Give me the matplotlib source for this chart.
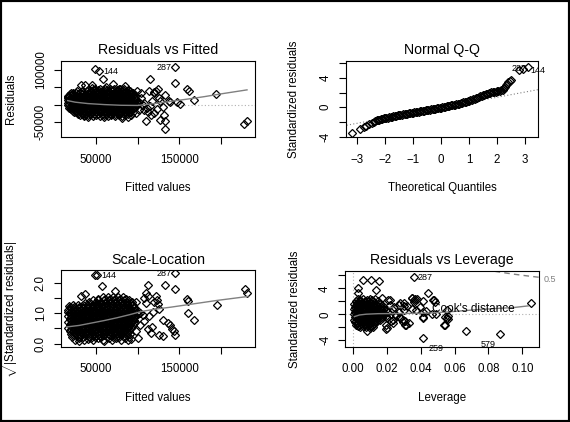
import matplotlib
matplotlib.use("Agg")
import matplotlib.pyplot as plt
import numpy as np

plt.rcParams['font.family'] = ['Liberation Sans', 'DejaVu Sans']
plt.rcParams['mathtext.fontset'] = 'custom'
plt.rcParams['mathtext.rm'] = 'Liberation Sans'
plt.rcParams['mathtext.it'] = 'Liberation Sans:italic'

# ---------- Residuals vs Fitted (thousands) ----------
# dense cloud: one list of fitted values per residual level
rf_cloud_res = [46, 42, 38, 34, 30, 26, 22, 18, 14, 10, 6, 2, -2, -6, -10, -14, -18, -22, -26, -30, -33]
rf_cloud_fit = [
    [49, 55, 61, 67, 72, 79, 84],
    [40, 46, 52, 58, 63, 70, 76, 82, 88],
    [27, 33, 39, 44, 50, 54, 60, 65, 69, 75, 80, 86, 91],
    [22, 26, 31, 35, 40, 44, 49, 53, 58, 62, 67, 71, 76, 80, 85, 89, 94],
    [19, 23, 28, 33, 37, 42, 46, 51, 55, 60, 64, 69, 73, 78, 83, 87, 92, 96],
    [18, 22, 27, 31, 36, 40, 45, 49, 53, 58, 62, 66, 71, 75, 80, 84, 88, 93, 97],
    [17, 21, 25, 30, 34, 38, 43, 47, 51, 56, 60, 64, 69, 73, 77, 82, 86, 90, 95],
    [17, 22, 26, 31, 35, 40, 44, 48, 53, 57, 61, 66, 70, 74, 79, 83, 87, 92, 96],
    [16, 20, 24, 29, 33, 37, 42, 46, 50, 55, 59, 63, 68, 72, 76, 81, 85, 89, 94, 98],
    [18, 22, 27, 31, 35, 40, 44, 48, 53, 57, 61, 66, 70, 74, 79, 83, 87, 92, 96],
    [16, 20, 25, 29, 33, 38, 42, 46, 51, 55, 59, 64, 68, 72, 77, 81, 85, 90, 94, 99],
    [18, 23, 27, 31, 36, 40, 44, 49, 53, 57, 62, 66, 70, 75, 79, 83, 88, 92, 97],
    [17, 21, 25, 30, 34, 38, 43, 47, 51, 56, 60, 64, 69, 73, 77, 82, 86, 90, 95, 99],
    [19, 23, 28, 32, 36, 41, 45, 49, 54, 58, 62, 67, 71, 75, 80, 84, 88, 93, 97],
    [18, 23, 27, 31, 36, 40, 44, 49, 53, 57, 62, 66, 70, 75, 79, 83, 88, 92, 96],
    [20, 25, 29, 33, 38, 42, 46, 51, 55, 59, 64, 68, 72, 77, 81, 85, 90, 94],
    [22, 26, 30, 35, 39, 43, 48, 52, 56, 61, 65, 69, 74, 78, 82, 87, 91],
    [24, 29, 33, 37, 42, 46, 50, 55, 59, 63, 68, 72, 76, 80, 85, 89],
    [28, 33, 38, 43, 48, 53, 58, 63, 68, 73, 78, 83, 88],
    [31, 36, 41, 50, 60, 68, 77, 85],
    [36, 46, 55, 64, 73, 81],
]
rf_out_fit = [49.2, 54, 145.2, 57.9, 114.3, 145, 159.5, 161, 167.5, 194.4, 227.8, 230.5,
              132.5, 110.3, 126.2, 131.4, 133, 130.2, 139, 150.9, 146.5, 132.5, 121.5, 124,
              119.8, 104, 99, 96.6, 102, 110.7, 107.5, 112.7, 101.6, 106.3, 117.5, 119, 127,
              137, 113, 31.7, 36.5, 19.8, 16.7, 21.4, 34.9, 80.9, 69.8, 77.8, 87.3, 89.7, 92,
              26, 60, 88, 94, 104, 108, 115, 116, 120, 123, 125, 98, 62, 45, 85, 40, 45.2, 75.4]
rf_out_res = [102, 96, 107.8, 72.8, 72.8, 63, 43.7, 39.8, 14.6, 31, -56.3, -47.6,
              -47.6, -47.6, -45.6, -30.1, -69.9, -5.8, 8.7, 2.9, 8.7, 28.2, 40, 44,
              36, 34, 39.8, 20.4, 8.7, -10.7, -15.5, -20.4, -16.5, -1, 10.7, 34, 10.7,
              10.7, 37.9, 55.3, 57.3, 34, 26.2, -10.7, -28.2, -39.8, 59.2, 43.7, 34, -10.7, -30.1,
              -22, -36, -36, -22, 20, 4, -5, -30, -25, -14, 18, -25, 50, 48, 55, -35, 57.3, 41.7]
rf_smooth_fit = [16, 25, 40, 60, 80, 100, 120, 140, 160, 180, 200, 231]
rf_smooth_res = [11.5, 7, 3, 0, -2, -2.5, 3, 9.5, 16, 23, 31, 42.5]

# ---------- Normal Q-Q ----------
qq_theo = [-3.19, -2.88, -2.76, -2.66, -2.56, -2.47, -2.40,
           -2.35, -2.30, -2.25, -2.20, -2.15, -2.10, -2.05, -2.00, -1.95, -1.90, -1.85, -1.80,
           -1.75, -1.70, -1.65, -1.60, -1.55, -1.50, -1.45, -1.40, -1.35, -1.30, -1.25, -1.20,
           -1.15, -1.10, -1.05, -1.00, -0.95, -0.90, -0.85, -0.80, -0.75, -0.70, -0.65, -0.60,
           -0.55, -0.50, -0.45, -0.40, -0.35, -0.30, -0.25, -0.20, -0.15, -0.10, -0.05, 0.00,
           0.05, 0.10, 0.15, 0.20, 0.25, 0.30, 0.35, 0.40, 0.45, 0.50, 0.55, 0.60, 0.65, 0.70,
           0.75, 0.80, 0.85, 0.90, 0.95, 1.00, 1.05, 1.10, 1.15, 1.20, 1.25, 1.30, 1.35, 1.40,
           1.45, 1.50, 1.55, 1.60, 1.65, 1.70, 1.75, 1.80, 1.85, 1.90, 1.95, 2.00, 2.05, 2.10,
           2.15, 2.20,
           2.25, 2.28, 2.32, 2.36, 2.40, 2.45, 2.50, 2.79, 2.93, 3.10]
qq_std = [-3.55, -2.92, -2.74, -2.56, -2.35, -2.15, -1.98,
          -1.88, -1.80, -1.74, -1.68, -1.63, -1.58, -1.53, -1.48, -1.44, -1.40, -1.36, -1.32,
          -1.28, -1.24, -1.20, -1.16, -1.12, -1.09, -1.05, -1.02, -0.98, -0.95, -0.91, -0.88,
          -0.84, -0.81, -0.77, -0.74, -0.70, -0.67, -0.63, -0.60, -0.56, -0.53, -0.49, -0.46,
          -0.42, -0.39, -0.35, -0.32, -0.28, -0.25, -0.21, -0.18, -0.14, -0.11, -0.07, -0.04,
          0.00, 0.04, 0.08, 0.12, 0.16, 0.20, 0.24, 0.28, 0.32, 0.37, 0.41, 0.46, 0.50, 0.55,
          0.60, 0.65, 0.70, 0.76, 0.82, 0.88, 0.94, 1.01, 1.08, 1.16, 1.24, 1.32, 1.41, 1.50,
          1.58, 1.66, 1.73, 1.80, 1.86, 1.92, 1.97, 2.02, 2.06, 2.10, 2.14, 2.18, 2.22, 2.26,
          2.32, 2.40,
          2.6, 2.8, 3.0, 3.2, 3.4, 3.6, 3.75, 5.05, 5.15, 5.5]
qq_line = (-0.06, 0.71)  # intercept, slope of the dotted line

# ---------- Scale-Location (fitted in thousands) ----------
sl_cloud_val = [1.52, 1.47, 1.42, 1.37, 1.32, 1.27, 1.22, 1.17, 1.12, 1.07, 1.02, 0.97, 0.92,
                0.87, 0.82, 0.77, 0.72, 0.67, 0.62, 0.57, 0.52, 0.47, 0.42, 0.37, 0.32, 0.27,
                0.22, 0.17, 0.13]
sl_cloud_fit = [
    [58, 64, 70, 76, 82],
    [52, 61, 67, 73, 79, 86],
    [47, 53, 59, 65, 71, 77, 83, 89],
    [42, 50, 56, 62, 68, 74, 80, 87, 93],
    [37, 43, 49, 55, 61, 67, 73, 79, 85, 91],
    [22, 28, 34, 40, 46, 52, 58, 64, 70, 76, 82, 88, 94],
    [19, 24, 30, 35, 41, 46, 52, 57, 63, 68, 74, 79, 85, 90, 96],
    [20, 25, 30, 35, 40, 45, 50, 55, 60, 65, 70, 75, 80, 85, 90, 95],
    [17, 22, 27, 32, 37, 42, 47, 52, 57, 62, 67, 72, 77, 82, 87, 92, 97],
    [20, 25, 30, 35, 40, 45, 50, 55, 60, 65, 70, 75, 80, 85, 90, 95, 100],
    [19, 24, 29, 34, 39, 44, 49, 54, 59, 64, 69, 74, 79, 84, 89, 94, 99],
    [20, 25, 30, 35, 40, 45, 50, 55, 60, 65, 70, 75, 80, 85, 90, 95, 100],
    [17, 22, 27, 32, 37, 42, 47, 52, 57, 62, 67, 72, 77, 82, 87, 92, 97],
    [20, 25, 30, 35, 40, 45, 50, 55, 60, 65, 70, 75, 80, 85, 90, 95],
    [19, 24, 29, 34, 39, 44, 49, 54, 59, 64, 69, 74, 79, 84, 89, 94],
    [20, 25, 30, 35, 40, 45, 50, 55, 60, 65, 70, 75, 80, 85, 90, 95],
    [17, 22, 27, 32, 37, 42, 47, 52, 57, 62, 67, 72, 77, 82, 87, 92, 97],
    [20, 25, 30, 35, 40, 45, 50, 55, 60, 65, 70, 75, 80, 85, 90, 95],
    [19, 24, 29, 34, 39, 44, 49, 54, 59, 64, 69, 74, 79, 84, 89, 94],
    [20, 25, 30, 35, 40, 45, 50, 55, 60, 65, 70, 75, 80, 85, 90],
    [17, 22, 27, 32, 37, 42, 47, 52, 57, 62, 67, 72, 77, 82, 87, 92],
    [20, 25, 30, 35, 40, 45, 50, 55, 60, 65, 70, 75, 80, 85, 90],
    [19, 24, 29, 34, 39, 44, 49, 54, 59, 64, 69, 74, 79, 84, 89],
    [22, 27, 32, 37, 45, 51, 56, 62, 67, 72, 78, 83, 88],
    [20, 26, 31, 37, 42, 48, 53, 59, 64, 70, 75, 81, 86, 91],
    [24, 31, 38, 45, 52, 60, 67, 73, 80, 87],
    [21, 28, 35, 42, 49, 56, 63, 70, 77, 84, 90],
    [30, 44, 52, 66, 74, 85],
    [25, 36, 47, 58, 69, 80],
]
sl_out_fit = [48.4, 51.6, 145.2, 57.1, 132.5, 144.4, 112.7, 109.5, 112, 73, 31.7, 36.5, 228.5, 231,
              195.2, 158.7, 160.3, 160.3, 167.5, 144.4, 130.2, 136.5, 138.9, 141.3, 142.9, 111.9,
              117.5, 115.9, 125.4, 130.2, 97.6, 123.8, 120, 122.6, 109.5, 97.6, 103.2, 106.3, 87.3,
              18, 16, 26, 103, 108, 114, 118, 126, 100, 92, 88, 60, 30, 40, 107.6, 122]
sl_out_val = [2.26, 2.24, 2.33, 1.91, 1.93, 1.78, 1.94, 1.67, 1.58, 1.74, 1.56, 1.63, 1.78, 1.67,
              1.26, 1.47, 1.41, 1.02, 0.78, 0.30, 0.79, 0.68, 0.60, 0.49, 0.43, 0.47,
              0.55, 0.34, 0.30, 0.24, 0.43, 1.30, 1.38, 1.42, 1.33, 1.37, 1.02, 0.95, 1.35,
              1.25, 1.05, 0.9, 0.6, 0.75, 0.9, 1.05, 1.15, 0.2, 0.15, 0.12, 0.1, 0.1, 0.15, 1.49, 1.57]
sl_smooth_fit = [15, 30, 45, 60, 75, 90, 105, 120, 140, 165, 195, 232]
sl_smooth_val = [0.55, 0.6, 0.68, 0.76, 0.85, 0.95, 1.06, 1.13, 1.2, 1.3, 1.42, 1.55]

# ---------- Residuals vs Leverage ----------
rl_cloud_std = [2.4, 2.2, 2.0, 1.8, 1.6, 1.4, 1.2, 1.0, 0.8, 0.6, 0.4, 0.2, 0.0,
                -0.2, -0.4, -0.6, -0.8, -1.0, -1.2, -1.4, -1.6, -1.8, -2.0]
rl_cloud_lev = [
    [0.003, 0.006, 0.010, 0.013],
    [0.0045, 0.0085, 0.0115],
    [0.002, 0.0045, 0.007, 0.0095, 0.012, 0.015],
    [0.0025, 0.005, 0.0075, 0.010, 0.0125, 0.0155],
    [0.001, 0.0035, 0.006, 0.0085, 0.011, 0.0135, 0.016],
    [0.002, 0.0045, 0.007, 0.0095, 0.012, 0.0145, 0.017],
    [0.0015, 0.004, 0.0065, 0.009, 0.0115, 0.014, 0.0165],
    [0.002, 0.0045, 0.007, 0.0095, 0.012, 0.0145, 0.017],
    [0.001, 0.0035, 0.006, 0.0085, 0.011, 0.0135, 0.016, 0.0185],
    [0.002, 0.0045, 0.007, 0.0095, 0.012, 0.0145, 0.017, 0.0195],
    [0.0015, 0.004, 0.0065, 0.009, 0.0115, 0.014, 0.0165],
    [0.002, 0.0045, 0.007, 0.0095, 0.012, 0.0145, 0.017],
    [0.001, 0.0035, 0.006, 0.0085, 0.011, 0.0135, 0.016, 0.019],
    [0.002, 0.0045, 0.007, 0.0095, 0.012, 0.0145, 0.017, 0.0195],
    [0.0015, 0.004, 0.0065, 0.009, 0.0115, 0.014, 0.0165],
    [0.002, 0.0045, 0.007, 0.0095, 0.012, 0.0145, 0.017],
    [0.001, 0.0035, 0.006, 0.0085, 0.011, 0.0135, 0.016],
    [0.002, 0.0045, 0.007, 0.0095, 0.012, 0.0145],
    [0.0015, 0.004, 0.0065, 0.009, 0.0115, 0.014],
    [0.0025, 0.005, 0.0075, 0.010, 0.0125],
    [0.002, 0.0045, 0.007, 0.0095, 0.012],
    [0.003, 0.006, 0.009, 0.011],
    [0.004, 0.008, 0.012],
]
rl_out_lev = [0.0363, 0.0061, 0.0108, 0.0155, 0.0029, 0.0033, 0.0135, 0.0446, 0.0414, 0.0473,
              0.0485, 0.0352, 0.0363, 0.0304, 0.0237, 0.1051, 0.0669, 0.0866, 0.0416, 0.054,
              0.056, 0.0564, 0.0493, 0.0465, 0.0414, 0.0398, 0.0434, 0.0352, 0.0375, 0.0316,
              0.033, 0.0308, 0.0297, 0.0198, 0.0194, 0.0084, 0.0104, 0.0218, 0.022, 0.027,
              0.0255, 0.028, 0.025, 0.0235, 0.021, 0.020, 0.0225, 0.030, 0.032, 0.036, 0.038,
              0.0245, 0.0275, 0.0171, 0.021, 0.0279, 0.0302, 0.0348, 0.0367, 0.048, 0.0554,
              0.0544, 0.0554, 0.0544, 0.0416, 0.0416, 0.0279, 0.0298, 0.0308, 0.020, 0.024]
rl_out_std = [5.69, 5.28, 5.28, 5.08, 4.0, 3.3, 3.76, 3.33, 2.0, 2.2,
              1.9, 2.5, 2.2, 1.68, 0.66, 1.79, -2.5, -3.0, -3.6, -1.6,
              -0.25, -0.66, 0.05, 0.1, -0.45, 1.07, 0.56, 0.82, 0.72, -1.6,
              -1.3, -1.1, -0.9, -2.2, -1.6, -2.6, -2.1, 2.2, 1.5, 0.3,
              -0.2, -0.5, 0.1, -0.9, 0.4, -0.6, -1.0, 0.6, 1.3, 1.9, 2.3,
              1.2, 1.5, 2.46, 2.2, 1.69, 1.32, 2.46, 2.35, 2.2, 0.66,
              -0.37, -0.62, -1.65, 0.4, -0.6, -0.37, -1.13, -1.65, -2.15, -1.38]
rl_smooth_lev = [0.001, 0.004, 0.008, 0.015, 0.025, 0.035, 0.045, 0.055, 0.065, 0.075, 0.085, 0.095, 0.1035]
rl_smooth_std = [-0.35, -0.1, 0.02, 0.1, 0.12, 0.15, 0.2, 0.35, 0.55, 0.75, 0.9, 1.05, 1.3]
cook_lev = [0.078, 0.085, 0.09, 0.095, 0.10, 0.105, 0.11, 0.115]
cook_std = [6.88, 6.56, 6.36, 6.17, 6.0, 5.84, 5.69, 5.55]


def flatten(rows, levels):
    xs, ys = [], []
    for row, lvl in zip(rows, levels):
        xs += row
        ys += [lvl] * len(row)
    return xs, ys


def pts(ax, x, y):
    ax.plot(x, y, ls='none', marker='D', ms=3.7, mfc='none', mec='black', mew=0.9)


def style(ax, title, xlabel, ylabel, ylab_x):
    ax.tick_params(length=5, width=0.8, labelsize=8.3)
    ax.tick_params(axis='x', pad=7)
    ax.tick_params(axis='y', pad=5)
    for lab in ax.get_yticklabels():
        lab.set_rotation(90)
        lab.set_va('center')
    for s in ax.spines.values():
        s.set_linewidth(0.8)
    ax.text(0.5, 1.14, title, transform=ax.transAxes, ha='center', va='center', fontsize=10.2)
    ax.text(0.5, -0.675, xlabel, transform=ax.transAxes, ha='center', va='center', fontsize=8.3)
    ax.text(ylab_x, 0.5, ylabel, transform=ax.transAxes, ha='center', va='center',
            rotation=90, fontsize=8.3, clip_on=False)


fig = plt.figure(figsize=(5.7, 4.22), dpi=100)
ax1 = fig.add_axes([0.1065, 0.6754, 0.3409, 0.1801])
ax2 = fig.add_axes([0.6065, 0.6754, 0.3379, 0.1801])
ax3 = fig.add_axes([0.1065, 0.1784, 0.3409, 0.1811])
ax4 = fig.add_axes([0.6053, 0.1784, 0.3404, 0.1794])

gray = '#808080'
lgray = '#b0b0b0'

# panel 1
cx, cy = flatten(rf_cloud_fit, rf_cloud_res)
fx = np.array(cx + rf_out_fit) * 1000
fy = np.array(cy + rf_out_res) * 1000
ax1.axhline(0, color=lgray, ls=(0, (1, 2)), lw=0.8)
pts(ax1, fx, fy)
ax1.plot(np.array(rf_smooth_fit) * 1000, np.array(rf_smooth_res) * 1000, color=gray, lw=1)
ax1.set_xlim(7700, 240600)
ax1.set_ylim(-93600, 126000)
ax1.set_xticks([50000, 100000, 150000, 200000], ['50000', '', '150000', ''])
ax1.set_yticks([-50000, 0, 50000, 100000], ['-50000', '', '', '100000'])
ax1.text(59000, 97000, '144', fontsize=6.5, ha='left', va='center')
ax1.text(141000, 106000, '287', fontsize=6.5, ha='right', va='center')
style(ax1, 'Residuals vs Fitted', 'Fitted values', 'Residuals', -0.256)

# panel 2
ax2.plot([-3.6, 3.6], [qq_line[0] - 3.6 * qq_line[1], qq_line[0] + 3.6 * qq_line[1]],
         color=gray, ls=(0, (1, 2)), lw=0.8)
pts(ax2, qq_theo, qq_std)
ax2.set_xlim(-3.40, 3.47)
ax2.set_ylim(-4.05, 6.3)
ax2.set_xticks([-3, -2, -1, 0, 1, 2, 3])
ax2.set_yticks([-4, -2, 0, 2, 4, 6], ['-4', '', '0', '', '4', ''])
ax2.text(2.79, 5.25, '287', fontsize=6.5, ha='center', va='center', clip_on=False)
ax2.text(3.45, 4.95, '144', fontsize=6.5, ha='center', va='center', clip_on=False)
style(ax2, 'Normal Q-Q', 'Theoretical Quantiles', 'Standardized residuals', -0.266)

# panel 3
cx, cy = flatten(sl_cloud_fit, sl_cloud_val)
pts(ax3, np.array(cx + sl_out_fit) * 1000, cy + sl_out_val)
ax3.plot(np.array(sl_smooth_fit) * 1000, sl_smooth_val, color=gray, lw=1)
ax3.set_xlim(7700, 240600)
ax3.set_ylim(-0.10, 2.41)
ax3.set_xticks([50000, 100000, 150000, 200000], ['50000', '', '150000', ''])
ax3.set_yticks([0, 0.5, 1.0, 1.5, 2.0], ['0.0', '', '1.0', '', '2.0'])
ax3.text(56000, 2.24, '144', fontsize=6.5, ha='left', va='center')
ax3.text(140000, 2.32, '287', fontsize=6.5, ha='right', va='center')
style(ax3, 'Scale-Location', 'Fitted values',
      r'$\sqrt{|\mathrm{Standardized\ residuals}|}$', -0.262)

# panel 4
cx, cy = flatten(rl_cloud_lev, rl_cloud_std)
ax4.axhline(0, color=lgray, ls=(0, (1, 2)), lw=0.8)
ax4.axvline(0, color=lgray, ls=(0, (1, 2)), lw=0.8)
pts(ax4, cx + rl_out_lev, cy + rl_out_std)
ax4.plot(rl_smooth_lev, rl_smooth_std, color=gray, lw=1)
ax4.plot(cook_lev, cook_std, color=gray, ls=(0, (4, 3)), lw=1)
ax4.set_xlim(-0.00454, 0.1098)
ax4.set_ylim(-4.98, 6.66)
ax4.set_xticks([0, 0.02, 0.04, 0.06, 0.08, 0.10], ['0.00', '0.02', '0.04', '0.06', '0.08', '0.10'])
ax4.set_yticks([-4, -2, 0, 2, 4, 6], ['-4', '', '0', '', '4', ''])
ax4.text(0.0385, 5.63, '287', fontsize=6.5, ha='left', va='center')
ax4.text(0.0491, -5.18, '259', fontsize=6.5, ha='center', va='center', clip_on=False)
ax4.text(0.0797, -4.57, '579', fontsize=6.5, ha='center', va='center', clip_on=False)
ax4.text(0.1125, 5.28, '0.5', fontsize=6.5, ha='left', va='center', color=gray, clip_on=False)
ax4.plot([0.021, 0.029], [1.1, 1.1], color=gray, ls=(0, (4, 3)), lw=1)
ax4.text(0.0467, 0.82, "Cook's distance", fontsize=8.5, ha='left', va='center')
style(ax4, 'Residuals vs Leverage', 'Leverage', 'Standardized residuals', -0.258)

fig.patches.append(plt.Rectangle((0, 0), 1, 1, transform=fig.transFigure, fill=False,
                                 ec='black', lw=3))
fig.savefig('out.png', dpi=100)
